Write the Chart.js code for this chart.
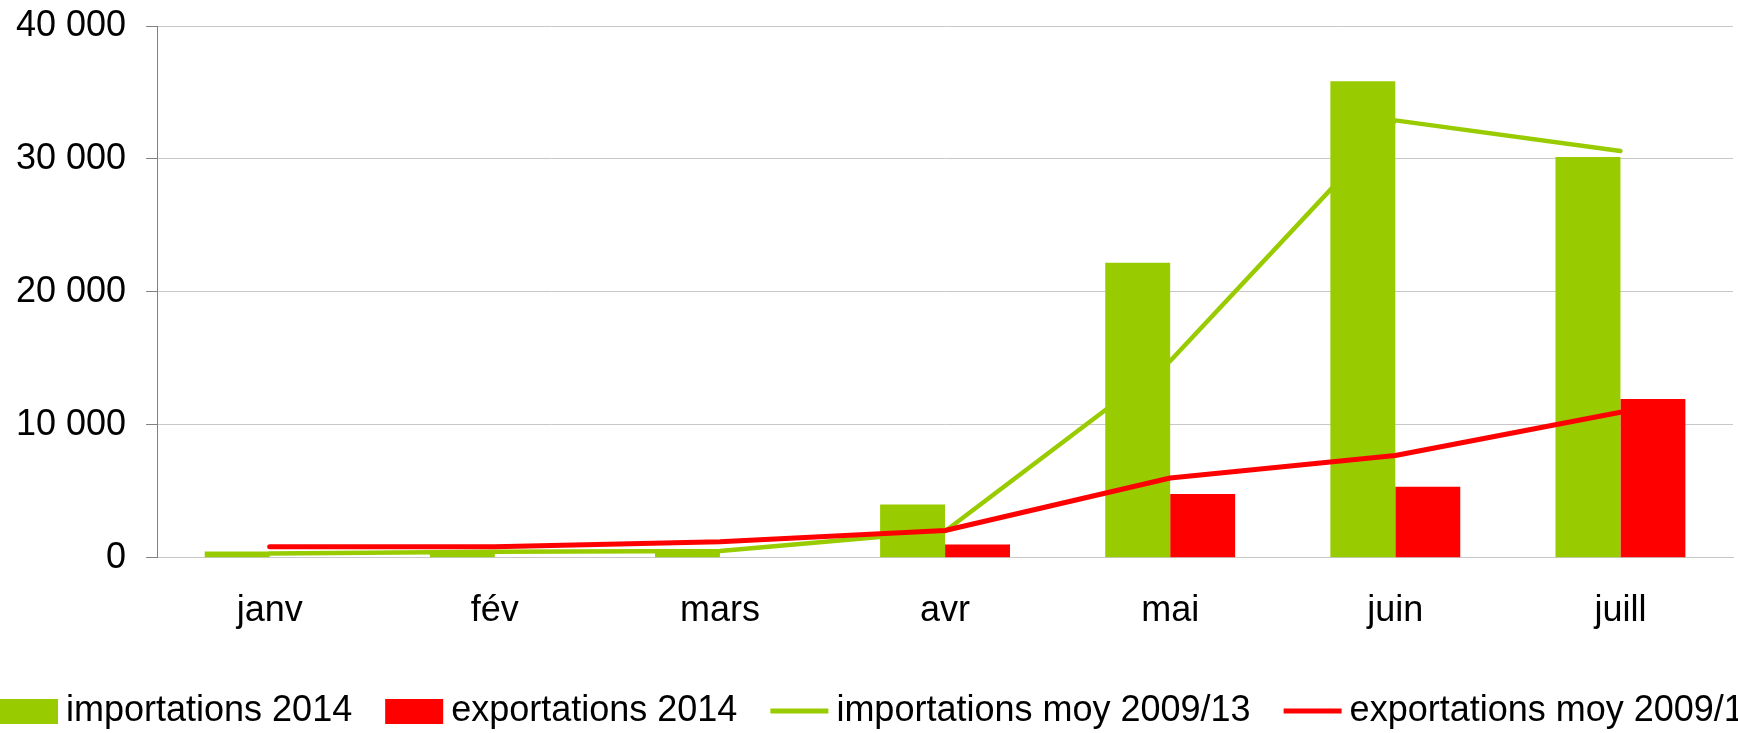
<!DOCTYPE html>
<html>
<head>
<meta charset="utf-8">
<script src="https://cdn.jsdelivr.net/npm/chart.js@4"></script>
<style>
  html, body { margin: 0; padding: 0; background: #fff; overflow: hidden; }
  .chart-container { position: relative; width: 1738px; height: 733px; }
</style>
</head>
<body>
<div class="chart-container">
  <canvas id="chart"></canvas>
</div>
<script>
// data
const months = ['janv', 'fév', 'mars', 'avr', 'mai', 'juin', 'juill'];
const importations2014 = [470, 570, 650, 4000, 22200, 35850, 30150];
const exportations2014 = [0, 0, 0, 1000, 4800, 5350, 11950];
const importationsMoy = [330, 450, 520, 2000, 14800, 32900, 30600];
const exportationsMoy = [830, 830, 1200, 2050, 6000, 7700, 10950];
const yTicks = [0, 10000, 20000, 30000, 40000];

const GREEN = '#99CC00';
const RED = '#FF0000';
const FONT_SIZE = 36;

Chart.defaults.font.family = '"Liberation Sans", Arial, sans-serif';
Chart.defaults.color = '#000';

const formatNumber = (v) => String(v).replace(/\B(?=(\d{3})+(?!\d))/g, ' ');

// legend drawn by hand so it can run off the right edge like the original
const bottomLegend = {
  id: 'bottomLegend',
  afterDraw(chart) {
    const ctx = chart.ctx;
    const y = 711;
    let x = 0;
    ctx.save();
    ctx.font = FONT_SIZE + 'px "Liberation Sans", Arial, sans-serif';
    ctx.textBaseline = 'middle';
    chart.data.datasets.forEach((ds) => {
      if (ds.type === 'line') {
        ctx.strokeStyle = ds.borderColor;
        ctx.lineWidth = 5;
        ctx.beginPath();
        ctx.moveTo(x, y);
        ctx.lineTo(x + 58, y);
        ctx.stroke();
      } else {
        ctx.fillStyle = ds.backgroundColor;
        ctx.fillRect(x, y - 12, 58, 25);
      }
      x += 66;
      ctx.fillStyle = '#000';
      ctx.fillText(ds.label, x, y);
      x += ctx.measureText(ds.label).width + 33;
    });
    ctx.restore();
  },
};

new Chart(document.getElementById('chart'), {
  type: 'bar',
  data: {
    labels: months,
    datasets: [
      {
        type: 'bar',
        label: 'importations 2014',
        data: importations2014,
        backgroundColor: GREEN,
        order: 2,
      },
      {
        type: 'bar',
        label: 'exportations 2014',
        data: exportations2014,
        backgroundColor: RED,
        order: 2,
      },
      {
        type: 'line',
        label: 'importations moy 2009/13',
        data: importationsMoy,
        borderColor: GREEN,
        backgroundColor: GREEN,
        borderWidth: 4.5,
        borderCapStyle: 'round',
        borderJoinStyle: 'round',
        pointRadius: 0,
        tension: 0,
        order: 1,
      },
      {
        type: 'line',
        label: 'exportations moy 2009/13',
        data: exportationsMoy,
        borderColor: RED,
        backgroundColor: RED,
        borderWidth: 5,
        borderCapStyle: 'round',
        borderJoinStyle: 'round',
        pointRadius: 0,
        tension: 0,
        order: 0,
      },
    ],
  },
  options: {
    responsive: true,
    maintainAspectRatio: false,
    animation: false,
    categoryPercentage: 0.577,
    barPercentage: 1.0,
    layout: {
      padding: { top: 26, left: -4, right: 5, bottom: 68 },
    },
    plugins: {
      legend: { display: false },
      tooltip: { enabled: false },
    },
    scales: {
      x: {
        grid: { display: false, drawTicks: false },
        border: { display: true, color: '#c8c8c8', width: 1 },
        ticks: {
          padding: 32,
          font: { size: FONT_SIZE },
          color: '#000',
        },
      },
      y: {
        min: 0,
        max: 40000,
        afterBuildTicks: (axis) => {
          axis.ticks = yTicks.map((v) => ({ value: v }));
        },
        afterFit: (axis) => {
          axis.paddingTop = 0;
          axis.paddingBottom = 0;
        },
        grid: {
          color: '#c8c8c8',
          lineWidth: 1,
          tickLength: 11,
          tickColor: '#808080',
        },
        border: { display: true, color: '#808080', width: 1 },
        ticks: {
          padding: 20,
          font: { size: FONT_SIZE },
          color: '#000',
          callback: (value) => formatNumber(value),
        },
      },
    },
  },
  plugins: [bottomLegend],
});
</script>
</body>
</html>
